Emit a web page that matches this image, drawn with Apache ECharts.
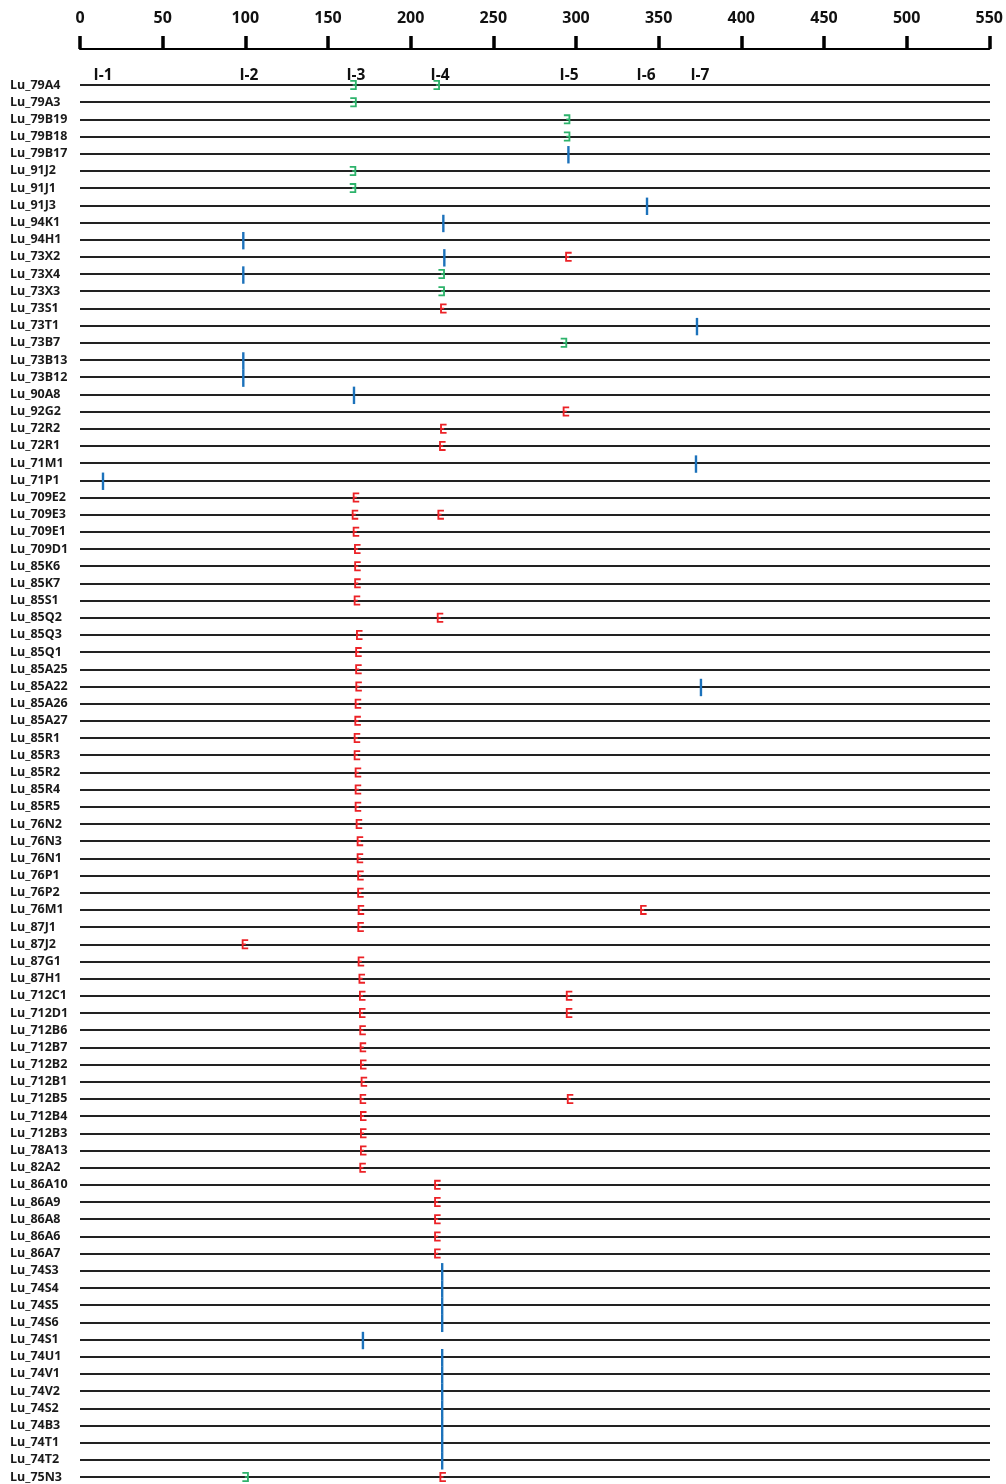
<!DOCTYPE html>
<html>
<head>
<meta charset="utf-8">
<script src="https://cdn.jsdelivr.net/npm/echarts@6/dist/echarts.min.js"></script>
<style>
html,body{margin:0;padding:0;background:#fff;}
#chart{width:1006px;height:1484px;}
</style>
</head>
<body>
<div id="chart"></div>
<script>
// Row (line) names, top to bottom
const rows = ['Lu_79A4','Lu_79A3','Lu_79B19','Lu_79B18','Lu_79B17','Lu_91J2','Lu_91J1','Lu_91J3','Lu_94K1','Lu_94H1',
  'Lu_73X2','Lu_73X4','Lu_73X3','Lu_73S1','Lu_73T1','Lu_73B7','Lu_73B13','Lu_73B12','Lu_90A8','Lu_92G2',
  'Lu_72R2','Lu_72R1','Lu_71M1','Lu_71P1','Lu_709E2','Lu_709E3','Lu_709E1','Lu_709D1','Lu_85K6','Lu_85K7',
  'Lu_85S1','Lu_85Q2','Lu_85Q3','Lu_85Q1','Lu_85A25','Lu_85A22','Lu_85A26','Lu_85A27','Lu_85R1','Lu_85R3',
  'Lu_85R2','Lu_85R4','Lu_85R5','Lu_76N2','Lu_76N3','Lu_76N1','Lu_76P1','Lu_76P2','Lu_76M1','Lu_87J1',
  'Lu_87J2','Lu_87G1','Lu_87H1','Lu_712C1','Lu_712D1','Lu_712B6','Lu_712B7','Lu_712B2','Lu_712B1','Lu_712B5',
  'Lu_712B4','Lu_712B3','Lu_78A13','Lu_82A2','Lu_86A10','Lu_86A9','Lu_86A8','Lu_86A6','Lu_86A7','Lu_74S3',
  'Lu_74S4','Lu_74S5','Lu_74S6','Lu_74S1','Lu_74U1','Lu_74V1','Lu_74V2','Lu_74S2','Lu_74B3','Lu_74T1',
  'Lu_74T2','Lu_75N3'];

// Top scale ticks
const scaleMin = 0, scaleMax = 550, scaleStep = 50;

// Cluster labels and positions
const clusterLabels = ['I-1','I-2','I-3','I-4','I-5','I-6','I-7'];
const clusterPositions = [13.9, 102.1, 166.8, 217.6, 295.6, 342.1, 374.7];

// Green marks (opening left): [row, position]
const greenSites = [
  ['Lu_79A4',165.3],['Lu_79A4',215.6],['Lu_79A3',165.3],['Lu_79B19',294.4],['Lu_79B18',294.4],
  ['Lu_91J2',165.0],['Lu_91J1',165.0],['Lu_73X4',218.6],['Lu_73X3',218.6],['Lu_73B7',292.5],
  ['Lu_75N3',100.1]
];

// Blue bars: [row, position]
const blueSites = [
  ['Lu_79B17',295.2],['Lu_91J3',342.7],['Lu_94K1',219.6],['Lu_94H1',98.7],['Lu_73X2',220.2],
  ['Lu_73X4',98.7],['Lu_73T1',372.9],['Lu_73B13',98.7],['Lu_73B12',98.7],['Lu_90A8',165.6],
  ['Lu_71M1',372.3],['Lu_71P1',13.9],['Lu_85A22',375.3],
  ['Lu_74S3',218.9],['Lu_74S4',218.9],['Lu_74S5',218.9],['Lu_74S6',218.9],['Lu_74S1',171.0],
  ['Lu_74U1',218.9],['Lu_74V1',218.9],['Lu_74V2',218.9],['Lu_74S2',218.9],['Lu_74B3',218.9],
  ['Lu_74T1',218.9],['Lu_74T2',218.9]
];

// Red marks (opening right): [row, position]
const redSites = [
  ['Lu_73X2',295.2],['Lu_73S1',219.6],['Lu_92G2',293.7],['Lu_72R2',219.6],['Lu_72R1',219.0],
  ['Lu_709E2',166.8],['Lu_709E3',166.2],['Lu_709E3',218.0],['Lu_709E1',166.8],['Lu_709D1',167.6],
  ['Lu_85K6',167.7],['Lu_85K7',167.7],['Lu_85S1',167.4],['Lu_85Q2',217.6],['Lu_85Q3',168.8],
  ['Lu_85Q1',168.3],['Lu_85A25',168.3],['Lu_85A22',168.4],['Lu_85A26',168.0],['Lu_85A27',167.8],
  ['Lu_85R1',167.4],['Lu_85R3',167.4],['Lu_85R2',168.0],['Lu_85R4',168.0],['Lu_85R5',168.0],
  ['Lu_76N2',168.6],['Lu_76N3',169.2],['Lu_76N1',169.2],['Lu_76P1',169.5],['Lu_76P2',169.5],
  ['Lu_76M1',169.8],['Lu_76M1',340.5],['Lu_87J1',169.6],['Lu_87J2',99.7],['Lu_87G1',169.8],
  ['Lu_87H1',170.3],['Lu_712C1',170.6],['Lu_712C1',295.6],['Lu_712D1',170.6],['Lu_712D1',295.6],
  ['Lu_712B6',170.8],['Lu_712B7',171.0],['Lu_712B2',171.2],['Lu_712B1',171.6],['Lu_712B5',171.0],
  ['Lu_712B5',296.2],['Lu_712B4',171.2],['Lu_712B3',171.2],['Lu_78A13',171.2],['Lu_82A2',170.8],
  ['Lu_86A10',216.0],['Lu_86A9',216.0],['Lu_86A8',216.0],['Lu_86A6',216.0],['Lu_86A7',216.0],
  ['Lu_75N3',219.2]
];

const GREEN = '#2db36b', RED = '#ec2227', BLUE = '#1c72bb';
const redPath = 'path://M0,0 H12 V3.2 H3.4 V7.6 H7.5 V10.4 H3.4 V14.8 H12 V18 H0 Z';
const greenPath = 'path://M0,0 H12 V18 H0 V14.8 H8.6 V10.4 H4.5 V7.6 H8.6 V3.2 H0 Z';

const toXY = arr => arr.map(d => [d[1], d[0]]);

const chart = echarts.init(document.getElementById('chart'), null, {renderer: 'canvas'});
chart.setOption({
  backgroundColor: '#fff',
  animation: false,
  textStyle: {fontFamily: 'Open Sans'},
  grid: [
    {left: 80, right: 14, top: 48, height: 1},
    {left: 80, right: 16, top: 85, bottom: 7}
  ],
  xAxis: [
    {
      gridIndex: 0, type: 'value', position: 'top', min: scaleMin, max: scaleMax, interval: scaleStep,
      axisLine: {show: true, lineStyle: {color: '#000', width: 2.2}},
      axisTick: {show: true, length: 13, lineStyle: {color: '#000', width: 3.5}},
      axisLabel: {show: true, margin: 22, fontSize: 16, fontWeight: 'bold', color: '#111', fontFamily: 'Open Sans'},
      splitLine: {show: false}
    },
    {
      gridIndex: 1, type: 'value', min: scaleMin, max: scaleMax, show: false
    }
  ],
  yAxis: [
    {gridIndex: 0, type: 'value', show: false},
    {
      gridIndex: 1, type: 'category', data: rows, inverse: true, boundaryGap: false,
      axisLine: {show: false}, axisTick: {show: false},
      axisLabel: {interval: 0, align: 'left', margin: 70, fontSize: 12.5, fontWeight: 'bold', color: '#1a1a1a', fontFamily: 'Open Sans'},
      splitLine: {show: true, interval: 0, lineStyle: {color: '#222', width: 1.8}}
    }
  ],
  series: [
    {
      name: 'clusters', type: 'scatter', xAxisIndex: 1, yAxisIndex: 1, symbolSize: 0,
      itemStyle: {opacity: 1},
      data: clusterLabels.map((n, i) => ({name: n, value: [clusterPositions[i], rows[0]]})),
      label: {show: true, position: 'top', distance: 1, formatter: '{b}', fontSize: 15.5, fontWeight: 'bold', color: '#111', opacity: 1, fontFamily: 'Open Sans'},
      z: 5
    },
    {
      name: 'blue', type: 'scatter', xAxisIndex: 1, yAxisIndex: 1,
      symbol: 'rect', symbolSize: [2.4, 17.4], symbolOffset: [0, 1],
      itemStyle: {color: BLUE, opacity: 1}, data: toXY(blueSites), z: 4
    },
    {
      name: 'green', type: 'scatter', xAxisIndex: 1, yAxisIndex: 1,
      symbol: greenPath, symbolSize: [6.5, 10],
      itemStyle: {color: GREEN, opacity: 1}, data: toXY(greenSites), z: 4
    },
    {
      name: 'red', type: 'scatter', xAxisIndex: 1, yAxisIndex: 1,
      symbol: redPath, symbolSize: [6.5, 10],
      itemStyle: {color: RED, opacity: 1}, data: toXY(redSites), z: 4
    }
  ]
});
</script>
</body>
</html>
